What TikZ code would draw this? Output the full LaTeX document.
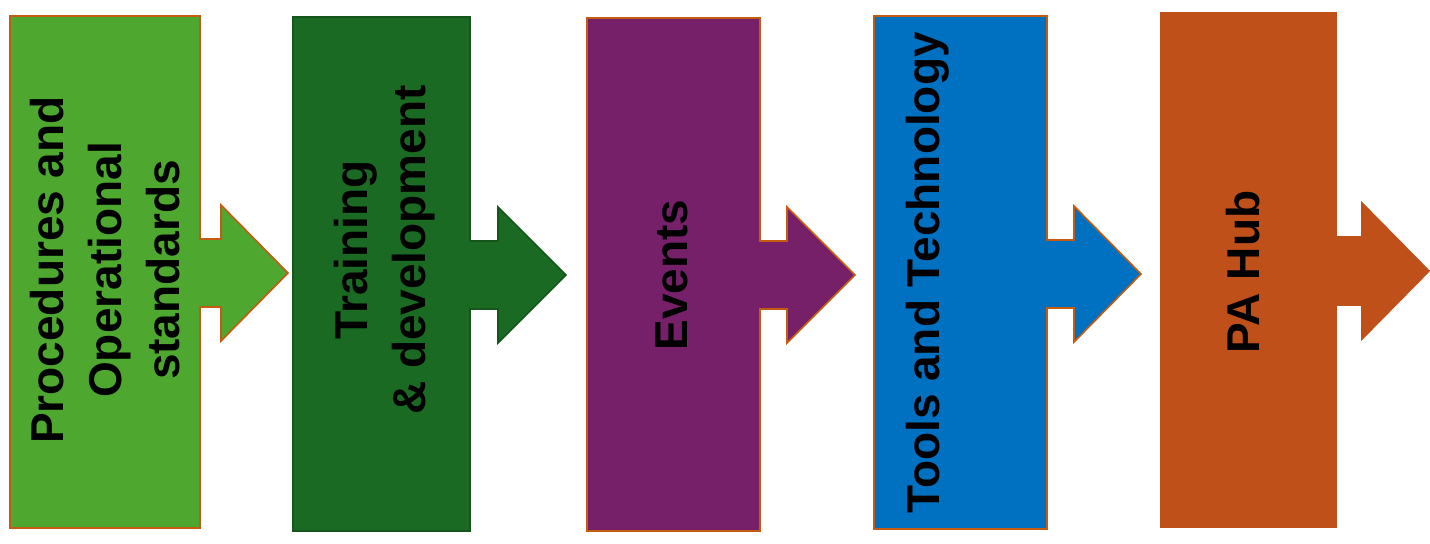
\documentclass[tikz,border=0pt]{standalone}
\usepackage{fontspec}
\setmainfont{Liberation Sans}
\definecolor{procgreen}{HTML}{4EA72E}
\definecolor{traingreen}{HTML}{1B6A23}
\definecolor{eventpurple}{HTML}{76206A}
\definecolor{toolblue}{HTML}{0070C0}
\definecolor{huborange}{HTML}{C0501A}
\definecolor{edgeorange}{HTML}{C55A11}
\tikzset{
  steplabel/.style={rotate=90,align=center,font=\bfseries\fontsize{23}{29}\selectfont,text=black,inner sep=0pt}
}
\begin{document}
\begin{tikzpicture}[x=0.5pt,y=-0.5pt]
    \useasboundingbox (0,0) rectangle (1430,543);

    % Blocs avec fleche
    \foreach \xl/\xr/\xb/\xt/\yt/\yb/\ym/\col/\lin in {
        10/200/221/288/16/528/273/procgreen/edgeorange,
        293/470/498/566/17/531/275/traingreen/traingreen!80!black,
        587/760/787/855/18/531/275/eventpurple/edgeorange,
        874/1047/1074/1141/16/529/274/toolblue/edgeorange,
        1161/1336/1362/1429/13/527/271/huborange/huborange} {
        \draw[fill=\col,draw=\lin,line width=0.8pt,line join=miter]
            (\xl,\yt) -- (\xr,\yt) -- (\xr,\ym-34) -- (\xb,\ym-34)
            -- (\xb,\ym-68) -- (\xt,\ym) -- (\xb,\ym+68)
            -- (\xb,\ym+34) -- (\xr,\ym+34) -- (\xr,\yb) -- (\xl,\yb) -- cycle;
    }

    % Textes
    \node[steplabel] (proc) at (105,270) {Procedures and\\Operational\\standards};
    \node[steplabel] (train) at (385,250) {Training\\\& development};
    \node[steplabel] (events) at (672,275) {Events};
    \node[steplabel] (tools) at (928,273) {Tools and Technology};
    \node[steplabel] (hub) at (1243,272) {PA Hub};
\end{tikzpicture}
\end{document}
